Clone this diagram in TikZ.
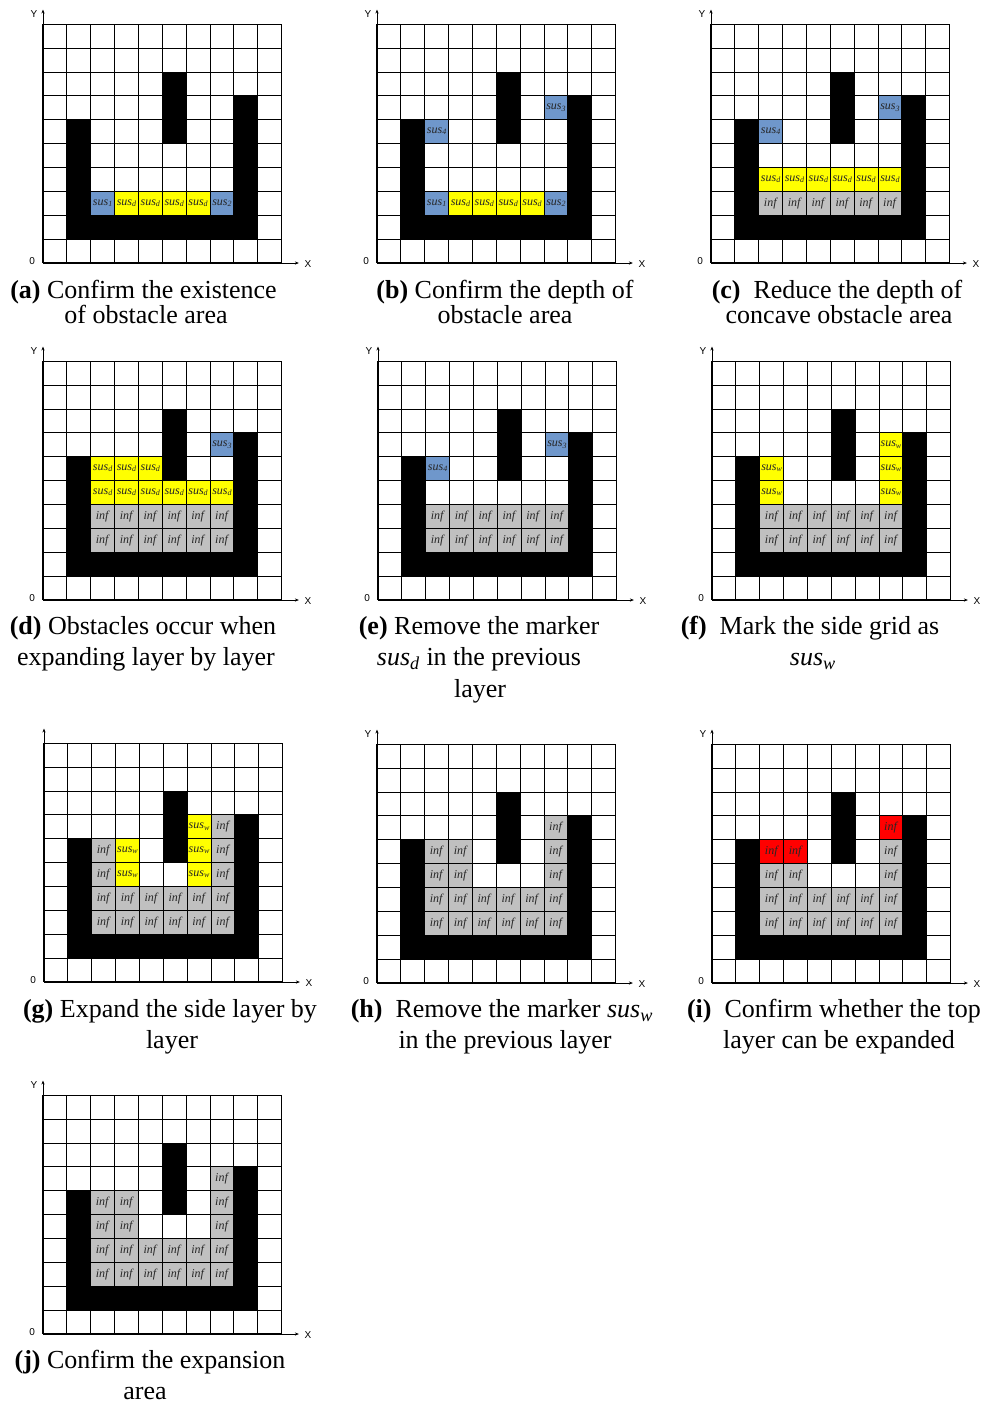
\documentclass[tikz,border=0pt]{standalone}
\usepackage{fontspec}
\setmainfont{Liberation Serif}
\setsansfont{Liberation Sans}
\usetikzlibrary{arrows.meta}
\definecolor{susblue}{HTML}{6F97CB}
\definecolor{susyellow}{HTML}{FFFF00}
\definecolor{infgray}{HTML}{C0C0C0}
\definecolor{infred}{HTML}{FF0000}
\newcommand{\susm}[1]{\textit{sus}\textsubscript{\textit{#1}}}
% walls, grid and axes of one panel: #1 = prefix of its node names, #2 = text of the Y label
\newcommand{\panelbase}[2]{%
\fill(1,1)rectangle(2,6)(1,1)rectangle(9,2)(8,1)rectangle(9,7)(5,5)rectangle(6,8);
\draw[gridline](0,0)grid(10,10);
\draw[axis](0,10)--(0,10.62);
\draw[axis](10,0)--(10.72,0);
\node[axlabel](#1-ylab)at(-0.38,10.42){#2};
\node[axlabel](#1-zero)at(-0.45,0.08){0};
\node[axlabel](#1-xlab)at(11.1,-0.04){X};}

\begin{document}
\begin{tikzpicture}[x=0.75pt,y=-0.75pt,
gridline/.style={line width=0.8pt,step=1},
axis/.style={line width=0.6pt,-{Stealth[length=3pt,width=2.4pt]}},
axlabel/.style={font=\sffamily\fontsize{7.5}{8}\selectfont,inner sep=0pt},
cellbox/.style={anchor=south west,minimum size=17.9pt,inner sep=0pt,font=\fontsize{9}{10}\selectfont,text=black!85},
blue cell/.style={cellbox,fill=susblue},
yellow cell/.style={cellbox,fill=susyellow},
gray cell/.style={cellbox,fill=infgray},
red cell/.style={cellbox,fill=infred},
caption/.style={anchor=base,font=\fontsize{19.5}{23}\selectfont,inner sep=0pt}]
\useasboundingbox(0,0)rectangle(989,1404);

% (a)
\begin{scope}[shift={(43,263)},x=17.9pt,y=17.9pt]
\node[blue cell](a-2-2)at(2,2){\susm{1}};
\foreach \c in {3,...,6}\node[yellow cell](a-\c-2)at(\c,2){\susm{d}};
\node[blue cell](a-7-2)at(7,2){\susm{2}};
\panelbase{a}{Y}
\end{scope}
\node[caption](capa1)at(143.5,298){\textbf{(a)} Confirm the existence};
\node[caption](capa2)at(146,323){of obstacle area};

% (b)
\begin{scope}[shift={(377,263)},x=17.9pt,y=17.9pt]
\node[blue cell](b-2-2)at(2,2){\susm{1}};
\foreach \c in {3,...,6}\node[yellow cell](b-\c-2)at(\c,2){\susm{d}};
\node[blue cell](b-7-2)at(7,2){\susm{2}};
\node[blue cell](b-2-5)at(2,5){\susm{4}};
\node[blue cell](b-7-6)at(7,6){\susm{3}};
\panelbase{b}{Y}
\end{scope}
\node[caption](capb1)at(505,298){\textbf{(b)} Confirm the depth of};
\node[caption](capb2)at(505,323){obstacle area};

% (c)
\begin{scope}[shift={(711,263)},x=17.9pt,y=17.9pt]
\foreach \c in {2,...,7}{
\node[gray cell](c-\c-2)at(\c,2){\textit{inf}};
\node[yellow cell](c-\c-3)at(\c,3){\susm{d}};}
\node[blue cell](c-2-5)at(2,5){\susm{4}};
\node[blue cell](c-7-6)at(7,6){\susm{3}};
\panelbase{c}{Y}
\end{scope}
\node[caption](capc1)at(837,298){\textbf{(c)}\ \ Reduce the depth of};
\node[caption](capc2)at(839,323){concave obstacle area};

% (d)
\begin{scope}[shift={(43,600)},x=17.9pt,y=17.9pt]
\foreach \c in {2,...,7}{
\foreach \r in {2,3}\node[gray cell](d-\c-\r)at(\c,\r){\textit{inf}};
\node[yellow cell](d-\c-4)at(\c,4){\susm{d}};}
\foreach \c in {2,3,4}\node[yellow cell](d-\c-5)at(\c,5){\susm{d}};
\node[blue cell](d-7-6)at(7,6){\susm{3}};
\panelbase{d}{Y}
\end{scope}
\node[caption](capd1)at(143,634){\textbf{(d)} Obstacles occur when};
\node[caption](capd2)at(146,665){expanding layer by layer};

% (e)
\begin{scope}[shift={(378,600)},x=17.9pt,y=17.9pt]
\foreach \c in {2,...,7}\foreach \r in {2,3}\node[gray cell](e-\c-\r)at(\c,\r){\textit{inf}};
\node[blue cell](e-2-5)at(2,5){\susm{4}};
\node[blue cell](e-7-6)at(7,6){\susm{3}};
\panelbase{e}{Y}
\end{scope}
\node[caption](cape1)at(479,634){\textbf{(e)} Remove the marker};
\node[caption](cape2)at(479,665){\susm{d} in the previous};
\node[caption](cape3)at(480,697){layer};

% (f)
\begin{scope}[shift={(712,600)},x=17.9pt,y=17.9pt]
\foreach \c in {2,...,7}\foreach \r in {2,3}\node[gray cell](f-\c-\r)at(\c,\r){\textit{inf}};
\foreach \r in {4,5}\node[yellow cell](f-2-\r)at(2,\r){\susm{w}};
\foreach \r in {4,5,6}\node[yellow cell](f-7-\r)at(7,\r){\susm{w}};
\panelbase{f}{Y}
\end{scope}
\node[caption](capf1)at(810,634){\textbf{(f)}\ \ Mark the side grid as};
\node[caption](capf2)at(813,665){\susm{w}};

% (g)
\begin{scope}[shift={(44,982)},x=17.9pt,y=17.9pt]
\foreach \c in {2,...,7}\foreach \r in {2,3}\node[gray cell](g-\c-\r)at(\c,\r){\textit{inf}};
\foreach \r in {4,5}{
\node[gray cell](g-2-\r)at(2,\r){\textit{inf}};
\node[yellow cell](g-3-\r)at(3,\r){\susm{w}};}
\foreach \r in {4,5,6}{
\node[yellow cell](g-6-\r)at(6,\r){\susm{w}};
\node[gray cell](g-7-\r)at(7,\r){\textit{inf}};}
\panelbase{g}{}
\end{scope}
\node[caption](capg1)at(170,1017){\textbf{(g)} Expand the side layer by};
\node[caption](capg2)at(172,1048){layer};

% (h)
\begin{scope}[shift={(377,983)},x=17.9pt,y=17.9pt]
\foreach \c in {2,...,7}\foreach \r in {2,3}\node[gray cell](h-\c-\r)at(\c,\r){\textit{inf}};
\foreach \c in {2,3}\foreach \r in {4,5}\node[gray cell](h-\c-\r)at(\c,\r){\textit{inf}};
\foreach \r in {4,5,6}\node[gray cell](h-7-\r)at(7,\r){\textit{inf}};
\panelbase{h}{Y}
\end{scope}
\node[caption](caph1)at(502,1017){\textbf{(h)}\ \ Remove the marker \susm{w}};
\node[caption](caph2)at(505,1048){in the previous layer};

% (i)
\begin{scope}[shift={(712,983)},x=17.9pt,y=17.9pt]
\foreach \c in {2,...,7}\foreach \r in {2,3}\node[gray cell](i-\c-\r)at(\c,\r){\textit{inf}};
\foreach \c in {2,3}{
\node[gray cell](i-\c-4)at(\c,4){\textit{inf}};
\node[red cell](i-\c-5)at(\c,5){\textit{inf}};}
\foreach \r in {4,5}\node[gray cell](i-7-\r)at(7,\r){\textit{inf}};
\node[red cell](i-7-6)at(7,6){\textit{inf}};
\panelbase{i}{Y}
\end{scope}
\node[caption](capi1)at(834,1017){\textbf{(i)}\ \ Confirm whether the top};
\node[caption](capi2)at(839,1048){layer can be expanded};

% (j)
\begin{scope}[shift={(43,1334)},x=17.9pt,y=17.9pt]
\foreach \c in {2,...,7}\foreach \r in {2,3}\node[gray cell](j-\c-\r)at(\c,\r){\textit{inf}};
\foreach \c in {2,3}\foreach \r in {4,5}\node[gray cell](j-\c-\r)at(\c,\r){\textit{inf}};
\foreach \r in {4,5,6}\node[gray cell](j-7-\r)at(7,\r){\textit{inf}};
\panelbase{j}{Y}
\end{scope}
\node[caption](capj1)at(150,1368){\textbf{(j)} Confirm the expansion};
\node[caption](capj2)at(145,1399){area};
\end{tikzpicture}
\end{document}
